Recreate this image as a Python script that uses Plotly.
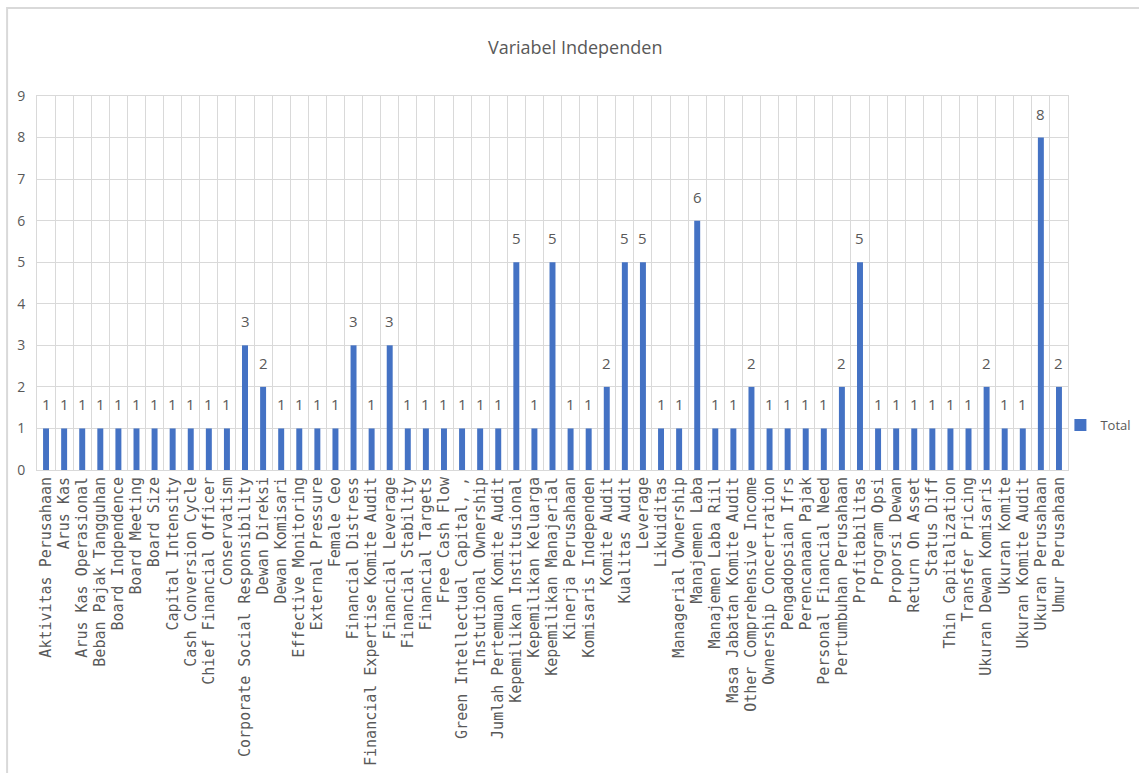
import plotly.graph_objects as go

categories = [
    "Aktivitas Perusahaan", "Arus Kas", "Arus Kas Operasional", "Beban Pajak Tangguhan",
    "Board Indpendence", "Board Meeting", "Board Size", "Capital Intensity",
    "Cash Conversion Cycle", "Chief Financial Officer", "Conservatism",
    "Corporate Social Responsibility", "Dewan Direksi", "Dewan Komisari",
    "Effective Monitoring", "External Pressure", "Female Ceo", "Financial Distress",
    "Financial Expertise Komite Audit", "Financial Leverage", "Financial Stability",
    "Financial Targets", "Free Cash Flow", "Green Intellectual Capital, ,",
    "Instutional Ownership", "Jumlah Pertemuan Komite Audit", "Kepemilikan Institusional",
    "Kepemilikan Keluarga", "Kepemilikan Manajerial", "Kinerja Perusahaan",
    "Komisaris Independen", "Komite Audit", "Kualitas Audit", "Leverage", "Likuiditas",
    "Managerial Ownership", "Manajemen Laba", "Manajemen Laba Riil",
    "Masa Jabatan Komite Audit", "Other Comprehensive Income", "Ownership Concertration",
    "Pengadopsian Ifrs", "Perencanaan Pajak", "Personal Financial Need",
    "Pertumbuhan Perusahaan", "Profitabilitas", "Program Opsi", "Proporsi Dewan",
    "Return On Asset", "Status Diff", "Thin Capitalization", "Transfer Pricing",
    "Ukuran Dewan Komisaris", "Ukuran Komite", "Ukuran Komite Audit",
    "Ukuran Perusahaan", "Umur Perusahaan",
]
totals = [
    1, 1, 1, 1, 1, 1, 1, 1, 1, 1, 1,
    3, 2, 1, 1, 1, 1, 3, 1, 3, 1, 1, 1, 1, 1, 1,
    5, 1, 5, 1, 1, 2, 5, 5, 1, 1, 6, 1, 1, 2, 1,
    1, 1, 1, 2, 5, 1, 1, 1, 1, 1, 1, 2, 1, 1, 8, 2,
]
y_ticks = list(range(0, 10))

grey = "#595959"
fig = go.Figure()
fig.add_trace(go.Bar(
    x=categories, y=totals, name="Total",
    marker=dict(color="#4472C4", line=dict(width=0)),
))

annotations = [
    dict(x=c, y=v, xref="x", yref="y", text=str(v), showarrow=False,
         yanchor="middle", yshift=24,
         font=dict(family="Open Sans", size=15, color=grey))
    for c, v in zip(categories, totals)
]

fig.update_layout(
    width=1139, height=773,
    margin=dict(l=37, r=71, t=96, b=303, autoexpand=False),
    paper_bgcolor="white", plot_bgcolor="white",
    bargap=0.67,
    title=dict(text="Variabel Independen", x=0.505, xanchor="center", y=0.938, yanchor="middle",
               font=dict(family="Open Sans", size=18, color=grey)),
    font=dict(family="Open Sans", color=grey),
    showlegend=True,
    legend=dict(xref="container", yref="container", x=0.931, y=0.45,
                xanchor="left", yanchor="middle",
                font=dict(family="Open Sans", size=13, color=grey),
                bgcolor="rgba(0,0,0,0)", itemwidth=30),
    annotations=annotations,
    shapes=[dict(type="rect", xref="paper", yref="paper",
                 x0=-0.029, x1=1.2, y0=-1.3, y1=1.235,
                 line=dict(color="#d9d9d9", width=2), fillcolor="rgba(0,0,0,0)", layer="below")],
)
fig.update_xaxes(
    type="category", tickson="boundaries", tickangle=-90,
    showgrid=True, gridcolor="#d9d9d9", gridwidth=1,
    showline=True, linecolor="#d9d9d9", mirror=True,
    ticks="", tickfont=dict(family="DejaVu Sans Mono", size=15, color=grey),
    range=[-0.5, len(categories) - 0.5],
)
fig.update_yaxes(
    range=[0, 9], tickvals=y_ticks, showgrid=True, gridcolor="#d9d9d9", gridwidth=1,
    showline=True, linecolor="#d9d9d9", mirror=True, zeroline=False,
    ticks="", tickfont=dict(family="Open Sans", size=14, color=grey), ticklabelstandoff=8,
)
fig.write_html("out.html")
